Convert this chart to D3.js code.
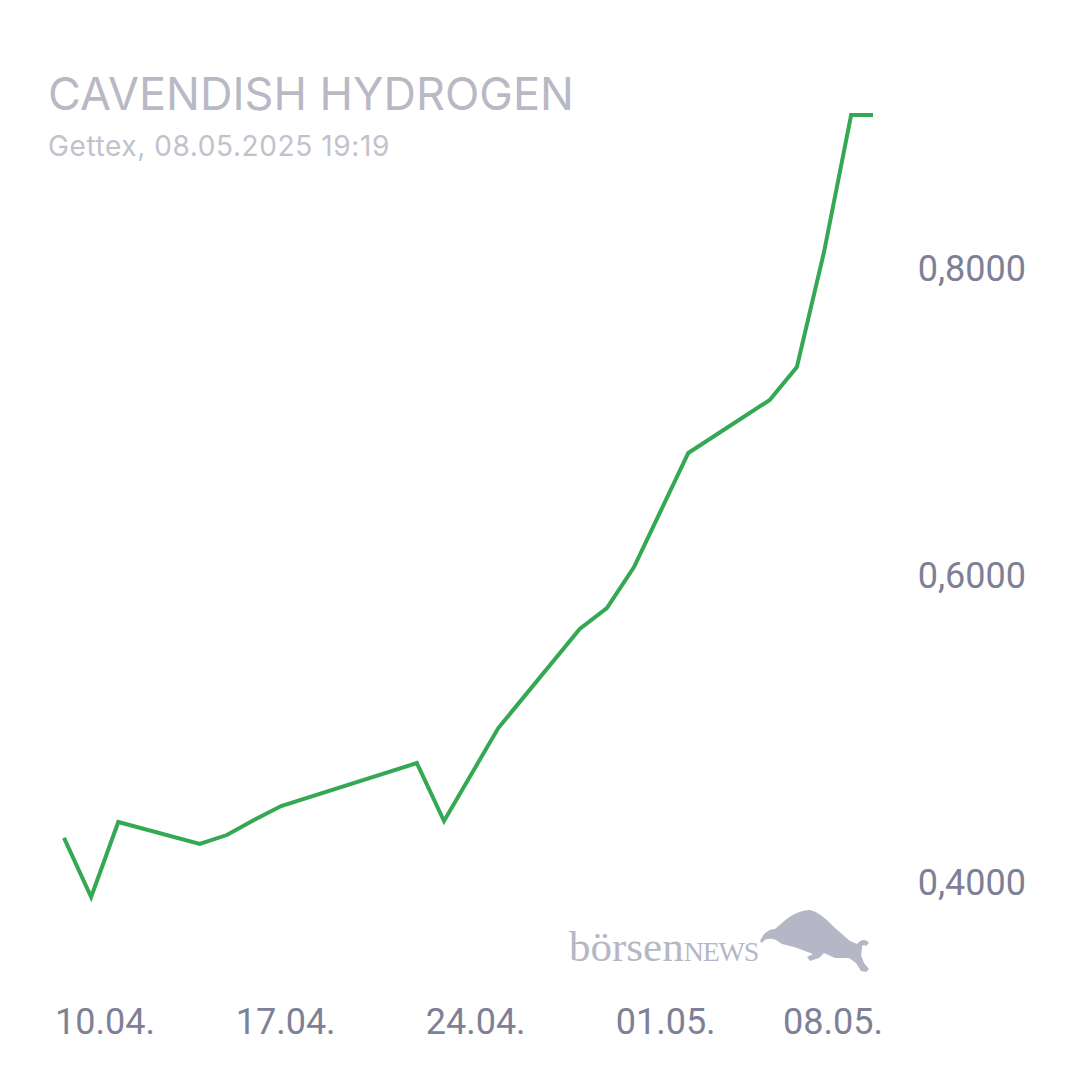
<!DOCTYPE html>
<html>
<head>
<meta charset="utf-8">
<script src="https://cdn.jsdelivr.net/npm/d3@7"></script>
<style>
  html, body { margin: 0; padding: 0; background: #ffffff; }
  svg { display: block; }
</style>
</head>
<body>
<svg id="chart" width="1080" height="1080"></svg>
<script>
// ---- data ----
const titleText = "CAVENDISH HYDROGEN";
const subtitleText = "Gettex, 08.05.2025 19:19";
const dates = [
  "2025-04-09", "2025-04-10", "2025-04-11", "2025-04-14", "2025-04-15",
  "2025-04-16", "2025-04-17", "2025-04-22", "2025-04-23", "2025-04-25",
  "2025-04-28", "2025-04-29", "2025-04-30", "2025-05-02", "2025-05-05",
  "2025-05-06", "2025-05-07", "2025-05-08", "2025-05-08T19:19"
];
const prices = [
  0.4287, 0.3902, 0.4391, 0.4248, 0.4306,
  0.4404, 0.4495, 0.4775, 0.4397, 0.5003,
  0.5648, 0.5785, 0.6052, 0.6795, 0.7140,
  0.7355, 0.8104, 0.8997, 0.8997
];
const xTickDates = ["2025-04-10", "2025-04-17", "2025-04-24", "2025-05-01", "2025-05-08"];
const yTickValues = [0.4, 0.6, 0.8];

// ---- setup ----
const svg = d3.select("#chart");
const parse = s => new Date(s.length > 10 ? s : s + "T00:00");
const data = dates.map((d, i) => ({ date: parse(d), value: prices[i] }));

const x = d3.scaleTime()
  .domain([parse(dates[0]), parse(dates[dates.length - 1])])
  .range([64, 873]);
const y = d3.scaleLinear()
  .domain([0.4, 0.8])
  .range([882, 268]);

const locale = d3.formatLocale({ decimal: ",", thousands: ".", grouping: [3], currency: ["", "€"] });
const fmtY = locale.format(".4f");
const fmtX = d3.timeFormat("%d.%m.");

// ---- title ----
svg.append("text")
  .attr("x", 48).attr("y", 110)
  .attr("font-family", "Inter, 'Noto Sans', sans-serif")
  .attr("font-size", 45)
  .attr("letter-spacing", 0)
  .attr("fill", "#b9b9c6")
  .text(titleText);
svg.append("text")
  .attr("x", 48).attr("y", 156)
  .attr("font-family", "Inter, 'Noto Sans', sans-serif")
  .attr("font-size", 28)
  .attr("letter-spacing", 0.6)
  .attr("fill", "#c2c2cd")
  .text(subtitleText);

// ---- y axis ----
const yAxis = svg.append("g")
  .attr("transform", "translate(1026,0)")
  .call(d3.axisRight(y).tickValues(yTickValues).tickFormat(fmtY).tickSize(0).tickPadding(0));
yAxis.select(".domain").remove();
yAxis.selectAll("text")
  .attr("text-anchor", "end")
  .attr("font-family", "Roboto, sans-serif")
  .attr("font-size", 36)
  .attr("fill", "#7e8096")
  .attr("dy", "0.35em");

// ---- x axis ----
const xAxis = svg.append("g")
  .attr("transform", "translate(0,1034)")
  .call(d3.axisBottom(x).tickValues(xTickDates.map(parse)).tickFormat(fmtX).tickSize(0).tickPadding(0));
xAxis.select(".domain").remove();
xAxis.selectAll("text")
  .attr("font-family", "Roboto, sans-serif")
  .attr("font-size", 36)
  .attr("fill", "#7e8096")
  .attr("dy", 0)
  .attr("text-anchor", "middle");
// keep labels inside bounds
const xMin = 55, xMax = 883;
xAxis.selectAll(".tick").each(function () {
  const t = d3.select(this).select("text");
  const w = t.node().getComputedTextLength();
  const tr = d3.select(this).attr("transform");
  const tx = +/translate\(([-\d.]+)/.exec(tr)[1];
  let c = tx + 4;
  if (c - w / 2 < xMin) c = xMin + w / 2;
  if (c + w / 2 > xMax) c = xMax - w / 2;
  t.attr("x", c - tx);
});

// ---- logo ----
const logo = svg.append("g").attr("fill", "#b6b7c6");
const lt = logo.append("text")
  .attr("x", 569).attr("y", 961)
  .attr("font-family", "'Liberation Serif', 'DejaVu Serif', serif");
lt.append("tspan").attr("font-size", 43).text("börsen");
lt.append("tspan").attr("font-size", 28).attr("letter-spacing", -1.2).text("NEWS");
logo.append("path")
  .attr("d", "M760,941 C763,934 768,929 775,929 L783,922 C791,915 800,910 810,910 C819,912 827,920 835,928 L850,941 L857,944 C861,939 866,939 869,943 L866,946 C864,944 862,945 862,948 L861,955 L864,963 L869,969 L866,972 L861,971 L856,963 L849,958 L835,958 L824,953 L819,958 L810,961 L807,957 L813,954 L805,951 L797,948 L790,946 L782,944 L776,940 C771,938 765,938 762,943 Z");

// ---- line ----
const line = d3.line().x(d => x(d.date)).y(d => y(d.value));
svg.append("path")
  .datum(data)
  .attr("d", line)
  .attr("fill", "none")
  .attr("stroke", "#34a853")
  .attr("stroke-width", 4)
  .attr("stroke-linejoin", "miter")
  .attr("stroke-linecap", "butt");
</script>
</body>
</html>
